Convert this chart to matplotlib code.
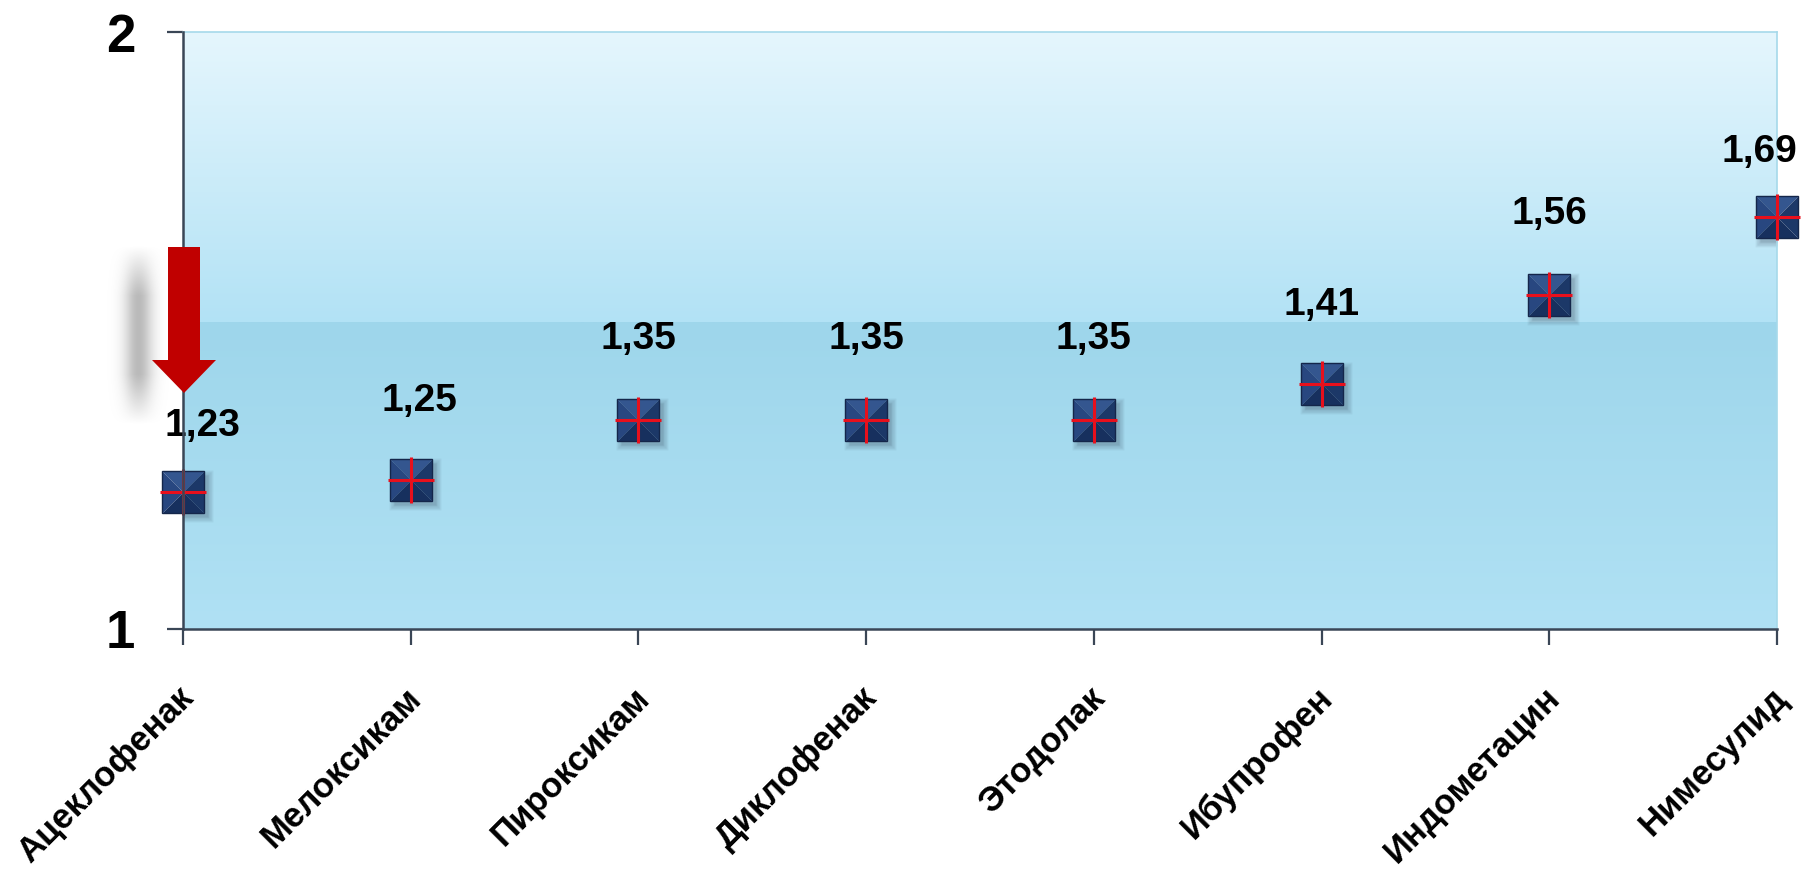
import numpy as np
import matplotlib.pyplot as plt
from matplotlib.patches import Polygon
from matplotlib.transforms import ScaledTranslation

plt.rcParams['font.family'] = ['Liberation Sans', 'DejaVu Sans']
plt.rcParams['font.weight'] = 'bold'

drugs = ['Ацеклофенак', 'Мелоксикам', 'Пироксикам', 'Диклофенак',
         'Этодолак', 'Ибупрофен', 'Индометацин', 'Нимесулид']
values = [1.23, 1.25, 1.35, 1.35, 1.35, 1.41, 1.56, 1.69]
value_labels = ['1,23', '1,25', '1,35', '1,35', '1,35', '1,41', '1,56', '1,69']
y_ticks = [1, 2]
band_level = 1.513  # граница тёмной полосы фона

fig = plt.figure(figsize=(18.06, 8.76), dpi=100)
ax = fig.add_axes([183 / 1806, 1 - 629 / 876, 1594 / 1806, 597 / 876])
x = np.arange(len(drugs))
ax.set_xlim(0, len(drugs) - 1)
ax.set_ylim(1, 2)

# фон: верхний градиент и нижняя полоса
def vgrad(c_top, c_bot, n=256):
    t = np.linspace(0, 1, n)[:, None]
    a = np.array(c_top) / 255.0
    b = np.array(c_bot) / 255.0
    return (a * (1 - t) + b * t)[:, None, :].repeat(2, axis=1)

ax.imshow(vgrad((229, 246, 253), (178, 226, 245)), aspect='auto',
          extent=(0, len(drugs) - 1, band_level, 2), zorder=0)
ax.imshow(vgrad((158, 214, 235), (176, 225, 244)), aspect='auto',
          extent=(0, len(drugs) - 1, 1, band_level), zorder=0)

# маркеры: тень, "пирамида" из четырёх треугольников, красный крест
shadow_off = ScaledTranslation(4 / 100, -4 / 100, fig.dpi_scale_trans)
for k, a in enumerate([0.05, 0.06, 0.07, 0.09, 0.1]):
    ax.plot(x, values, ls='none', marker='s', ms=38 - k * 2, mfc='#334455',
            mec='none', alpha=a, transform=ax.transData + shadow_off, zorder=2)

faces = {
    'top': ([(-1, 1), (1, 1), (0, 0)], '#34568f'),
    'left': ([(-1, 1), (-1, -1), (0, 0)], '#284780'),
    'right': ([(1, 1), (1, -1), (0, 0)], '#1c3868'),
    'bottom': ([(-1, -1), (1, -1), (0, 0)], '#17305e'),
}
for verts, col in faces.values():
    ax.plot(x, values, ls='none', marker=verts, ms=30, mfc=col, mec='none',
            zorder=3, clip_on=False)
ax.plot(x, values, ls='none', marker='s', ms=30, mfc='none', mec='#14264a',
        mew=1, zorder=4, clip_on=False)
ax.plot(x, values, ls='none', marker='+', ms=33, mec='#e8101c', mew=2.2,
        zorder=5, clip_on=False)

# подписи значений
label_dx = [14, 6, 0, 0, 0, 0, 0, -13]
label_dy = [47, 57, 58, 58, 58, 57, 58, 47]
for xi, v, s, dx, dy in zip(x, values, value_labels, label_dx, label_dy):
    ax.annotate(s, (xi, v), xytext=(dx, dy), textcoords='offset points',
                ha='center', va='center', fontsize=28, fontweight='bold',
                color='black', zorder=6, annotation_clip=False)

# оси
for side in ['top', 'right']:
    ax.spines[side].set_color('#a6d9ea')
    ax.spines[side].set_linewidth(1.2)
for side in ['left', 'bottom']:
    ax.spines[side].set_color('#3a4656')
    ax.spines[side].set_linewidth(1.8)
    ax.spines[side].set_zorder(7)

ax.set_yticks(y_ticks)
ax.set_yticklabels([str(t) for t in y_ticks])
ax.set_xticks(x)
ax.set_xticklabels(drugs)
ax.tick_params(axis='y', length=11.5, width=1.6, color='#3a4656', pad=23,
               labelsize=38)
ax.tick_params(axis='x', length=11.5, width=1.6, color='#3a4656', pad=26,
               labelsize=25)
for lab in ax.get_xticklabels():
    lab.set_rotation(45)
    lab.set_ha('right')
    lab.set_va('top')
    lab.set_rotation_mode('anchor')
    lab.set_fontweight('bold')
    lab.set_transform(lab.get_transform() + ScaledTranslation(-6 / 100, 0, fig.dpi_scale_trans))
for lab in ax.get_yticklabels():
    lab.set_fontweight('bold')

# красная стрелка вниз к Ацеклофенаку и её размытая тень
yy, xx = np.mgrid[0:80, 0:70]
shadow = np.zeros((80, 70, 4))
alpha = np.exp(-((xx - 38) / 14.0) ** 2) * np.clip(np.minimum(yy, 79 - yy) / 22.0, 0, 1)
shadow[..., :3] = 0.55
shadow[..., 3] = alpha * 0.6
sax = fig.add_axes([100 / 1806, 1 - 425 / 876, 70 / 1806, 180 / 876])
sax.imshow(shadow, aspect='auto', interpolation='bilinear')
sax.axis('off')

fx = lambda px: px / 1806
fy = lambda py: 1 - py / 876
arrow = Polygon([(fx(168), fy(247)), (fx(200), fy(247)), (fx(200), fy(360)),
                 (fx(216), fy(360)), (fx(184), fy(393)), (fx(152), fy(360)),
                 (fx(168), fy(360))], closed=True, facecolor='#c00000',
                edgecolor='none', transform=fig.transFigure, zorder=10)
fig.patches.append(arrow)

fig.savefig('out.png', dpi=100)
